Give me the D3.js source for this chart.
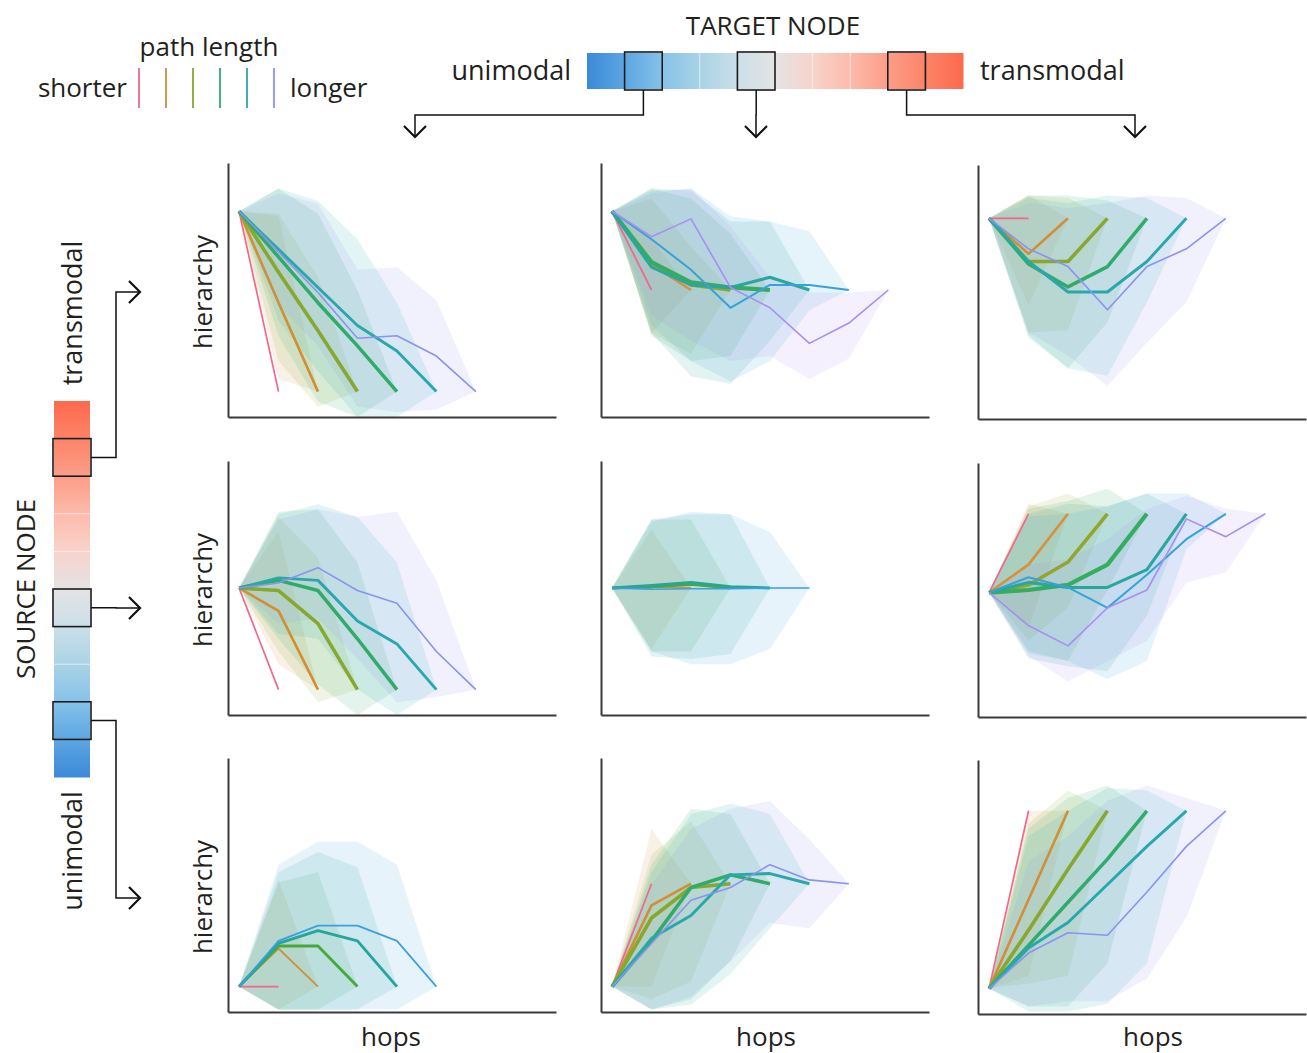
<!DOCTYPE html>
<html>
<head>
<meta charset="utf-8">
<script src="https://cdn.jsdelivr.net/npm/d3@7"></script>
<style>
  body { margin: 0; background: #fff; }
  text { font-family: "Open Sans", sans-serif; fill: #231f20; }
</style>
</head>
<body>
<div id="chart"></div>
<script>
// hierarchy of the mean path at each hop (0..L), one row per path length L = 1..n
// band = spread at the intermediate hops 1..L-1
// source transmodal -> target unimodal
var tu_mean = [
    [0.81, 0.10],
    [0.81, 0.45, 0.10],
    [0.81, 0.57, 0.34, 0.10],
    [0.81, 0.63, 0.45, 0.28, 0.10],
    [0.81, 0.66, 0.51, 0.36, 0.26, 0.10],
    [0.81, 0.65, 0.49, 0.31, 0.32, 0.24, 0.10]
];
var tu_hi = [[], [0.79], [0.80, 0.55], [0.90, 0.80, 0.50], [0.90, 0.85, 0.70, 0.45], [0.88, 0.84, 0.58, 0.59, 0.46]];
var tu_lo = [[], [0.15], [0.22, 0.04], [0.32, 0.06, 0.00], [0.38, 0.18, 0.00, 0.00], [0.44, 0.28, 0.04, 0.02, 0.03]];

// source transmodal -> target middle
var tm_mean = [
    [0.81, 0.50],
    [0.81, 0.60, 0.50],
    [0.81, 0.61, 0.52, 0.50],
    [0.81, 0.61, 0.53, 0.51, 0.50],
    [0.81, 0.59, 0.52, 0.51, 0.55, 0.50],
    [0.81, 0.70, 0.58, 0.43, 0.52, 0.52, 0.50],
    [0.81, 0.71, 0.78, 0.51, 0.43, 0.29, 0.37, 0.50]
];
var tm_hi = [[], [0.70], [0.86, 0.67], [0.90, 0.86, 0.72], [0.90, 0.89, 0.77, 0.77], [0.89, 0.90, 0.79, 0.77, 0.73], [0.88, 0.90, 0.75, 0.55, 0.49, 0.49]];
var tm_lo = [[], [0.33], [0.33, 0.25], [0.32, 0.22, 0.24], [0.33, 0.16, 0.13, 0.30], [0.36, 0.22, 0.14, 0.22, 0.42], [0.40, 0.30, 0.22, 0.24, 0.15, 0.23]];

// source transmodal -> target transmodal
var tt_mean = [
    [0.79, 0.79],
    [0.79, 0.65, 0.79],
    [0.79, 0.62, 0.62, 0.79],
    [0.79, 0.61, 0.52, 0.60, 0.79],
    [0.79, 0.62, 0.50, 0.50, 0.62, 0.79],
    [0.79, 0.67, 0.60, 0.43, 0.60, 0.67, 0.79]
];
var tt_hi = [[], [0.88], [0.88, 0.87], [0.88, 0.88, 0.86], [0.87, 0.85, 0.88, 0.87], [0.85, 0.83, 0.85, 0.88, 0.87]];
var tt_lo = [[], [0.45], [0.34, 0.35], [0.33, 0.20, 0.38], [0.32, 0.20, 0.17, 0.46], [0.34, 0.25, 0.13, 0.30, 0.46]];

// source middle -> target unimodal
var mu_mean = [
    [0.50, 0.10],
    [0.50, 0.41, 0.10],
    [0.50, 0.49, 0.36, 0.10],
    [0.50, 0.53, 0.49, 0.30, 0.10],
    [0.50, 0.54, 0.53, 0.37, 0.28, 0.10],
    [0.50, 0.52, 0.58, 0.49, 0.44, 0.25, 0.10]
];
var mu_hi = [[], [0.72], [0.78, 0.62], [0.80, 0.81, 0.60], [0.79, 0.83, 0.78, 0.60], [0.77, 0.81, 0.78, 0.80, 0.53]];
var mu_lo = [[], [0.20], [0.25, 0.05], [0.30, 0.12, 0.00], [0.32, 0.30, 0.10, 0.00], [0.36, 0.38, 0.22, 0.05, 0.07]];

// source middle -> target middle
var mm_mean = [
    [0.50, 0.50],
    [0.50, 0.505, 0.50],
    [0.50, 0.505, 0.515, 0.50],
    [0.50, 0.51, 0.522, 0.505, 0.50],
    [0.50, 0.495, 0.497, 0.497, 0.50, 0.50]
];
var mm_hi = [[], [0.73], [0.77, 0.77], [0.77, 0.79, 0.79], [0.76, 0.80, 0.79, 0.72]];
var mm_lo = [[], [0.26], [0.25, 0.25], [0.23, 0.22, 0.24], [0.25, 0.20, 0.20, 0.26]];

// source middle -> target transmodal
var mt_mean = [
    [0.49, 0.80],
    [0.49, 0.60, 0.80],
    [0.49, 0.52, 0.61, 0.80],
    [0.49, 0.50, 0.52, 0.60, 0.80],
    [0.49, 0.53, 0.51, 0.51, 0.58, 0.80],
    [0.49, 0.55, 0.51, 0.43, 0.56, 0.70, 0.80],
    [0.49, 0.36, 0.28, 0.43, 0.50, 0.78, 0.71, 0.80]
];
var mt_hi = [[], [0.84], [0.83, 0.88], [0.82, 0.85, 0.90], [0.80, 0.84, 0.83, 0.88], [0.79, 0.80, 0.83, 0.88, 0.88], [0.60, 0.62, 0.70, 0.82, 0.87, 0.82]];
var mt_lo = [[], [0.35], [0.30, 0.43], [0.26, 0.22, 0.50], [0.23, 0.20, 0.18, 0.40], [0.25, 0.22, 0.15, 0.22, 0.66], [0.24, 0.14, 0.22, 0.30, 0.53, 0.57]];

// source unimodal -> target unimodal
var uu_mean = [
    [0.10, 0.10],
    [0.10, 0.25, 0.10],
    [0.10, 0.26, 0.26, 0.10],
    [0.10, 0.27, 0.32, 0.28, 0.10],
    [0.10, 0.28, 0.34, 0.34, 0.28, 0.10]
];
var uu_hi = [[], [0.52], [0.51, 0.55], [0.55, 0.63, 0.57], [0.58, 0.67, 0.67, 0.58]];
var uu_lo = [[], [0.01], [0.01, 0.01], [0.01, 0.01, 0.01], [0.01, 0.01, 0.01, 0.01]];

// source unimodal -> target middle
var um_mean = [
    [0.10, 0.505],
    [0.10, 0.42, 0.505],
    [0.10, 0.37, 0.49, 0.505],
    [0.10, 0.28, 0.49, 0.54, 0.505],
    [0.10, 0.29, 0.38, 0.54, 0.545, 0.505],
    [0.10, 0.27, 0.44, 0.49, 0.58, 0.52, 0.505]
];
var um_hi = [[], [0.72], [0.62, 0.75], [0.58, 0.80, 0.78], [0.55, 0.78, 0.82, 0.78], [0.50, 0.72, 0.80, 0.83, 0.68]];
var um_lo = [[], [0.10], [0.05, 0.12], [0.01, 0.05, 0.20], [0.01, 0.03, 0.15, 0.33], [0.01, 0.06, 0.20, 0.35, 0.33]];

// source unimodal -> target transmodal
var ut_mean = [
    [0.10, 0.80],
    [0.10, 0.45, 0.80],
    [0.10, 0.33, 0.57, 0.80],
    [0.10, 0.27, 0.44, 0.61, 0.80],
    [0.10, 0.26, 0.36, 0.51, 0.66, 0.80],
    [0.10, 0.24, 0.32, 0.31, 0.48, 0.66, 0.80]
];
var ut_hi = [[], [0.80], [0.75, 0.88], [0.73, 0.85, 0.90], [0.70, 0.80, 0.89, 0.88], [0.60, 0.70, 0.84, 0.90, 0.85]];
var ut_lo = [[], [0.15], [0.12, 0.15], [0.03, 0.03, 0.20], [0.01, 0.01, 0.04, 0.20], [0.03, 0.05, 0.05, 0.14, 0.38]];

// colour bar bins (0 = unimodal ... 9 = transmodal) and the three highlighted ones
var nodeBins = [0, 1, 2, 3, 4, 5, 6, 7, 8, 9];
var selectedBins = [1, 4, 8];

// style
var palettes = {
    5: ["#f2678a", "#c9923f", "#45aa3a", "#27a59a", "#3b9fe0"],
    6: ["#f2678a", "#d08f36", "#86a82e", "#30ab6c", "#2aa7aa", "#8a93f0"],
    7: ["#f2678a", "#d8903a", "#92a52c", "#35ad5f", "#2aa69c", "#36a2d6", "#a88df2"]
};
var lineWidths = {
    5: [1.6, 1.8, 2.9, 2.9, 1.7],
    6: [1.7, 2.6, 3.6, 3.5, 2.9, 1.6],
    7: [1.7, 2.6, 3.5, 4.2, 3.1, 2.0, 1.6]
};
var cmapStops = [0, 0.1, 0.2, 0.3, 0.4, 0.5, 0.6, 0.7, 0.8, 0.9, 1];
var cmapColors = ["#3b8ad9", "#5ca6e2", "#86c2e9", "#a9d3e6", "#cbdfe8", "#e4e3e4", "#f8d3cb", "#fcbbab", "#fc9d88", "#fc8468", "#fd694c"];

function init() {
    var w = 1307;
    var h = 1053;

    var svg = d3.select("#chart")
        .append("svg")
        .attr("width", w)
        .attr("height", h);

    var defs = svg.append("defs");

    var panels = [
        { row: 0, col: 0, mean: tu_mean, hi: tu_hi, lo: tu_lo },
        { row: 0, col: 1, mean: tm_mean, hi: tm_hi, lo: tm_lo },
        { row: 0, col: 2, mean: tt_mean, hi: tt_hi, lo: tt_lo },
        { row: 1, col: 0, mean: mu_mean, hi: mu_hi, lo: mu_lo },
        { row: 1, col: 1, mean: mm_mean, hi: mm_hi, lo: mm_lo },
        { row: 1, col: 2, mean: mt_mean, hi: mt_hi, lo: mt_lo },
        { row: 2, col: 0, mean: uu_mean, hi: uu_hi, lo: uu_lo },
        { row: 2, col: 1, mean: um_mean, hi: um_hi, lo: um_lo },
        { row: 2, col: 2, mean: ut_mean, hi: ut_hi, lo: ut_lo }
    ];

    var panelW = 328, panelH = 254;
    var colX = [228, 601, 978];
    var rowY = [163, 461, 758];
    var colDy = [0, 0, 2];

    var x = d3.scaleLinear().domain([-0.28, 8.03]).range([0, panelW]);
    var y = d3.scaleLinear().domain([0, 1]).range([panelH, 0]);

    var area = d3.area()
        .x(d => x(d.hop))
        .y0(d => y(d.lo))
        .y1(d => y(d.hi));
    var line = d3.line()
        .x((d, i) => x(i))
        .y(d => y(d));

    panels.forEach(function (p) {
        var g = svg.append("g")
            .attr("transform", "translate(" + colX[p.col] + "," + (rowY[p.row] + colDy[p.col]) + ")");
        var n = p.mean.length;
        var colors = palettes[n];
        var widths = lineWidths[n];

        // shaded spread of every path length
        p.mean.forEach(function (m, k) {
            var L = m.length - 1;
            if (L < 2) return;
            var pts = [{ hop: 0, lo: m[0], hi: m[0] }];
            p.hi[k].forEach(function (v, j) {
                pts.push({ hop: j + 1, lo: p.lo[k][j], hi: v });
            });
            pts.push({ hop: L, lo: m[L], hi: m[L] });
            g.append("path")
                .attr("d", area(pts))
                .attr("fill", colors[k])
                .attr("fill-opacity", 0.13);
        });

        // mean lines
        p.mean.forEach(function (m, k) {
            g.append("path")
                .attr("d", line(m))
                .attr("fill", "none")
                .attr("stroke", colors[k])
                .attr("stroke-width", widths[k])
                .attr("stroke-linejoin", "round");
        });

        // bare axes, no ticks
        g.append("g").call(d3.axisLeft(y).tickValues([]).tickSizeOuter(0));
        g.append("g")
            .attr("transform", "translate(0," + panelH + ")")
            .call(d3.axisBottom(x).tickValues([]).tickSizeOuter(0));
        svg.selectAll(".domain").attr("stroke", "#3a3a3a").attr("stroke-width", 2);
    });

    // axis titles
    [292, 590, 897].forEach(function (cy) {
        svg.append("text")
            .attr("transform", "translate(212," + cy + ") rotate(-90)")
            .attr("text-anchor", "middle")
            .attr("font-size", 26)
            .text("hierarchy");
    });
    [391, 766, 1153].forEach(function (cx) {
        svg.append("text")
            .attr("x", cx)
            .attr("y", 1046)
            .attr("text-anchor", "middle")
            .attr("font-size", 26)
            .text("hops");
    });

    // path length legend
    var legendColors = palettes[6];
    svg.append("text").attr("x", 209).attr("y", 56).attr("text-anchor", "middle")
        .attr("font-size", 26).text("path length");
    svg.append("text").attr("x", 127).attr("y", 97).attr("text-anchor", "end")
        .attr("font-size", 26).text("shorter");
    svg.append("text").attr("x", 290).attr("y", 97)
        .attr("font-size", 26).text("longer");
    var lx = d3.scaleLinear().domain([0, 5]).range([139, 274]);
    svg.selectAll(".legline")
        .data(legendColors)
        .enter()
        .append("line")
        .attr("x1", (d, i) => lx(i))
        .attr("x2", (d, i) => lx(i))
        .attr("y1", 68)
        .attr("y2", 108)
        .attr("stroke", d => d)
        .attr("stroke-width", 1.8);

    var cmap = d3.scaleLinear().domain(cmapStops).range(cmapColors);

    // target node colour bar (horizontal)
    var tx = d3.scaleBand().domain(nodeBins).range([587, 963]);
    var barTop = 53, barH = 36;
    nodeBins.forEach(function (b) {
        var gr = defs.append("linearGradient").attr("id", "gh" + b)
            .attr("x1", "0%").attr("x2", "100%").attr("y1", "0%").attr("y2", "0%");
        gr.append("stop").attr("offset", "0%").attr("stop-color", cmap(b / 10));
        gr.append("stop").attr("offset", "100%").attr("stop-color", cmap((b + 1) / 10));
        var gv = defs.append("linearGradient").attr("id", "gv" + b)
            .attr("x1", "0%").attr("x2", "0%").attr("y1", "0%").attr("y2", "100%");
        gv.append("stop").attr("offset", "0%").attr("stop-color", cmap((b + 1) / 10));
        gv.append("stop").attr("offset", "100%").attr("stop-color", cmap(b / 10));
    });
    svg.selectAll(".tseg")
        .data(nodeBins)
        .enter()
        .append("rect")
        .attr("x", d => tx(d))
        .attr("y", barTop)
        .attr("width", tx.bandwidth() + 0.5)
        .attr("height", barH)
        .attr("fill", d => "url(#gh" + d + ")");
    svg.selectAll(".tsep")
        .data(nodeBins.slice(1))
        .enter()
        .append("line")
        .attr("x1", d => tx(d)).attr("x2", d => tx(d))
        .attr("y1", barTop).attr("y2", barTop + barH)
        .attr("stroke", "#fff").attr("stroke-opacity", 0.6).attr("stroke-width", 1);
    svg.selectAll(".tbox")
        .data(selectedBins)
        .enter()
        .append("rect")
        .attr("x", d => tx(d))
        .attr("y", barTop - 1)
        .attr("width", tx.bandwidth())
        .attr("height", barH + 2)
        .attr("fill", "none")
        .attr("stroke", "#1a1a1a")
        .attr("stroke-width", 1.6);

    svg.append("text").attr("x", 773).attr("y", 35).attr("text-anchor", "middle")
        .attr("font-size", 26).text("TARGET NODE");
    svg.append("text").attr("x", 571).attr("y", 80).attr("text-anchor", "end")
        .attr("font-size", 27).text("unimodal");
    svg.append("text").attr("x", 980).attr("y", 80)
        .attr("font-size", 27).text("transmodal");

    // source node colour bar (vertical, transmodal on top)
    var sy = d3.scaleBand().domain(nodeBins.slice().reverse()).range([401, 777]);
    var barLeft = 54, barW = 36;
    svg.selectAll(".sseg")
        .data(nodeBins)
        .enter()
        .append("rect")
        .attr("x", barLeft)
        .attr("y", d => sy(d))
        .attr("width", barW)
        .attr("height", sy.bandwidth() + 0.5)
        .attr("fill", d => "url(#gv" + d + ")");
    svg.selectAll(".ssep")
        .data(nodeBins.slice(1))
        .enter()
        .append("line")
        .attr("x1", barLeft).attr("x2", barLeft + barW)
        .attr("y1", d => sy(d) + sy.bandwidth()).attr("y2", d => sy(d) + sy.bandwidth())
        .attr("stroke", "#fff").attr("stroke-opacity", 0.6).attr("stroke-width", 1);
    svg.selectAll(".sbox")
        .data(selectedBins)
        .enter()
        .append("rect")
        .attr("x", barLeft - 1)
        .attr("y", d => sy(d))
        .attr("width", barW + 2)
        .attr("height", sy.bandwidth())
        .attr("fill", "none")
        .attr("stroke", "#1a1a1a")
        .attr("stroke-width", 1.6);

    svg.append("text")
        .attr("transform", "translate(35,589) rotate(-90)")
        .attr("text-anchor", "middle").attr("font-size", 26).text("SOURCE NODE");
    svg.append("text")
        .attr("transform", "translate(82,313) rotate(-90)")
        .attr("text-anchor", "middle").attr("font-size", 27).text("transmodal");
    svg.append("text")
        .attr("transform", "translate(82,851) rotate(-90)")
        .attr("text-anchor", "middle").attr("font-size", 27).text("unimodal");

    // connector arrows
    var arrows = svg.append("g")
        .attr("fill", "none")
        .attr("stroke", "#111")
        .attr("stroke-width", 1.5);
    var tc = b => tx(b) + tx.bandwidth() / 2;
    var sc = b => sy(b) + sy.bandwidth() / 2;
    var downTips = [415, 756, 1135];
    selectedBins.forEach(function (b, i) {
        var x0 = tc(b), x1 = downTips[i];
        arrows.append("path")
            .attr("d", "M" + x0 + "," + (barTop + barH + 1) + "V115H" + x1 + "V137");
        arrows.append("path")
            .attr("stroke-width", 2.2)
            .attr("d", "M" + (x1 - 11) + ",126L" + x1 + ",137L" + (x1 + 11) + ",126");
    });
    var rightTips = [898, 608, 292];
    selectedBins.forEach(function (b, i) {
        var y0 = sc(b), y1 = rightTips[i];
        arrows.append("path")
            .attr("d", "M" + (barLeft + barW + 1) + "," + y0 + "H116V" + y1 + "H140");
        arrows.append("path")
            .attr("stroke-width", 2.2)
            .attr("d", "M129," + (y1 - 11) + "L140," + y1 + "L129," + (y1 + 11));
    });
}

window.onload = init;
</script>
</body>
</html>
